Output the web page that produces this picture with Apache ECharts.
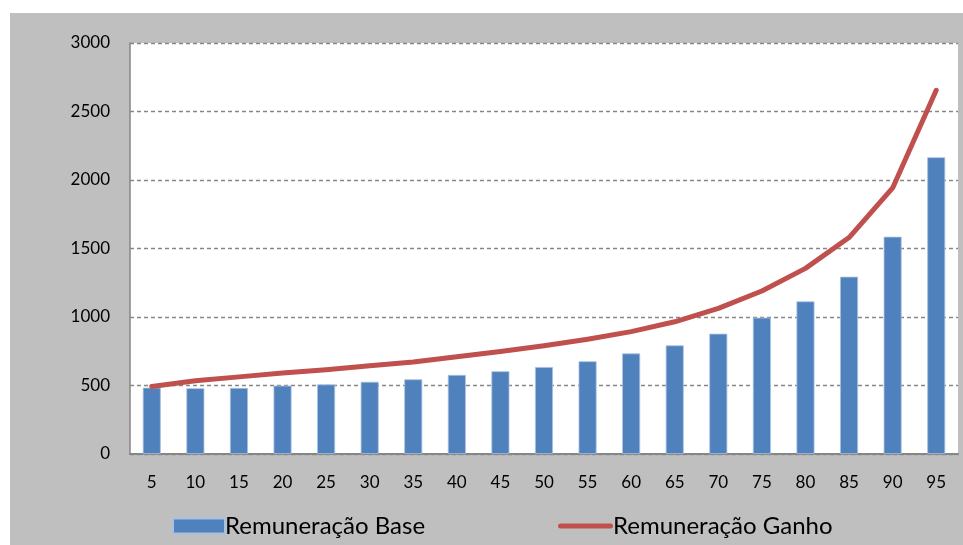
<!DOCTYPE html>
<html>
<head>
<meta charset="utf-8">
<script src="https://cdn.jsdelivr.net/npm/echarts@6/dist/echarts.min.js"></script>
<style>
html,body{margin:0;padding:0;background:#fff;}
#c{width:963px;height:545px;}
</style>
</head>
<body>
<div id="c"></div>
<script>
var categories = ['5','10','15','20','25','30','35','40','45','50','55','60','65','70','75','80','85','90','95'];
var baseValues = [484,480,482,499,508,527,545,577,604,635,677,734,793,878,995,1114,1294,1586,2166];
var ganhoValues = [493,535,563,592,615,644,672,710,748,790,838,893,965,1063,1190,1355,1580,1942,2655];
var seriesNames = ['Remuneração Base','Remuneração Ganho'];

var chart = echarts.init(document.getElementById('c'), null, {renderer:'canvas'});
var font = 'Lato, "Open Sans", sans-serif';
var legendText = {fontFamily: font, fontSize: 24, color: '#000', padding: [0,0,0,-5]};
chart.setOption({
  backgroundColor: '#ffffff',
  animation: false,
  graphic: [{
    type: 'rect', z: -10, silent: true,
    shape: {x: 10, y: 13, width: 953, height: 532},
    style: {fill: '#bfbfbf'}
  }],
  grid: {
    left: 130, top: 43, right: 5, bottom: 91,
    show: true, backgroundColor: '#ffffff', borderWidth: 0
  },
  legend: [{
    left: 167, top: 509,
    itemWidth: 52, itemHeight: 15,
    textStyle: legendText,
    data: [{name: seriesNames[0], icon: 'rect'}]
  }, {
    left: 553, top: 509,
    itemWidth: 55, itemHeight: 15,
    textStyle: legendText,
    data: [{name: seriesNames[1], icon: 'path://M2.5,0 L52.5,0 A2.5,2.5 0 0 1 52.5,5 L2.5,5 A2.5,2.5 0 0 1 2.5,0 Z', itemStyle: {color: '#c0504d'}}]
  }],
  xAxis: {
    type: 'category',
    data: categories,
    axisLine: {lineStyle: {color: '#868686', width: 2}},
    axisTick: {show: false},
    axisLabel: {fontFamily: font, fontSize: 17, color: '#000', margin: 20}
  },
  yAxis: {
    type: 'value', min: 0, max: 3000, interval: 500,
    axisLine: {show: true, lineStyle: {color: '#868686', width: 1.5}},
    axisTick: {show: false},
    axisLabel: {fontFamily: font, fontSize: 17, color: '#000', margin: 20, formatter: function (v) { return String(v); }},
    splitLine: {lineStyle: {color: '#868686', type: [4,3], width: 1.3}}
  },
  series: [{
    name: seriesNames[0],
    type: 'bar',
    data: baseValues,
    barWidth: 18,
    itemStyle: {color: '#4f81bd', borderColor: '#a9c1e0', borderWidth: 0.8}
  }, {
    name: seriesNames[1],
    type: 'line',
    data: ganhoValues,
    symbol: 'none',
    z: 5,
    lineStyle: {color: '#c0504d', width: 5, cap: 'round', join: 'round'},
    itemStyle: {color: '#c0504d'}
  }]
});
</script>
</body>
</html>
